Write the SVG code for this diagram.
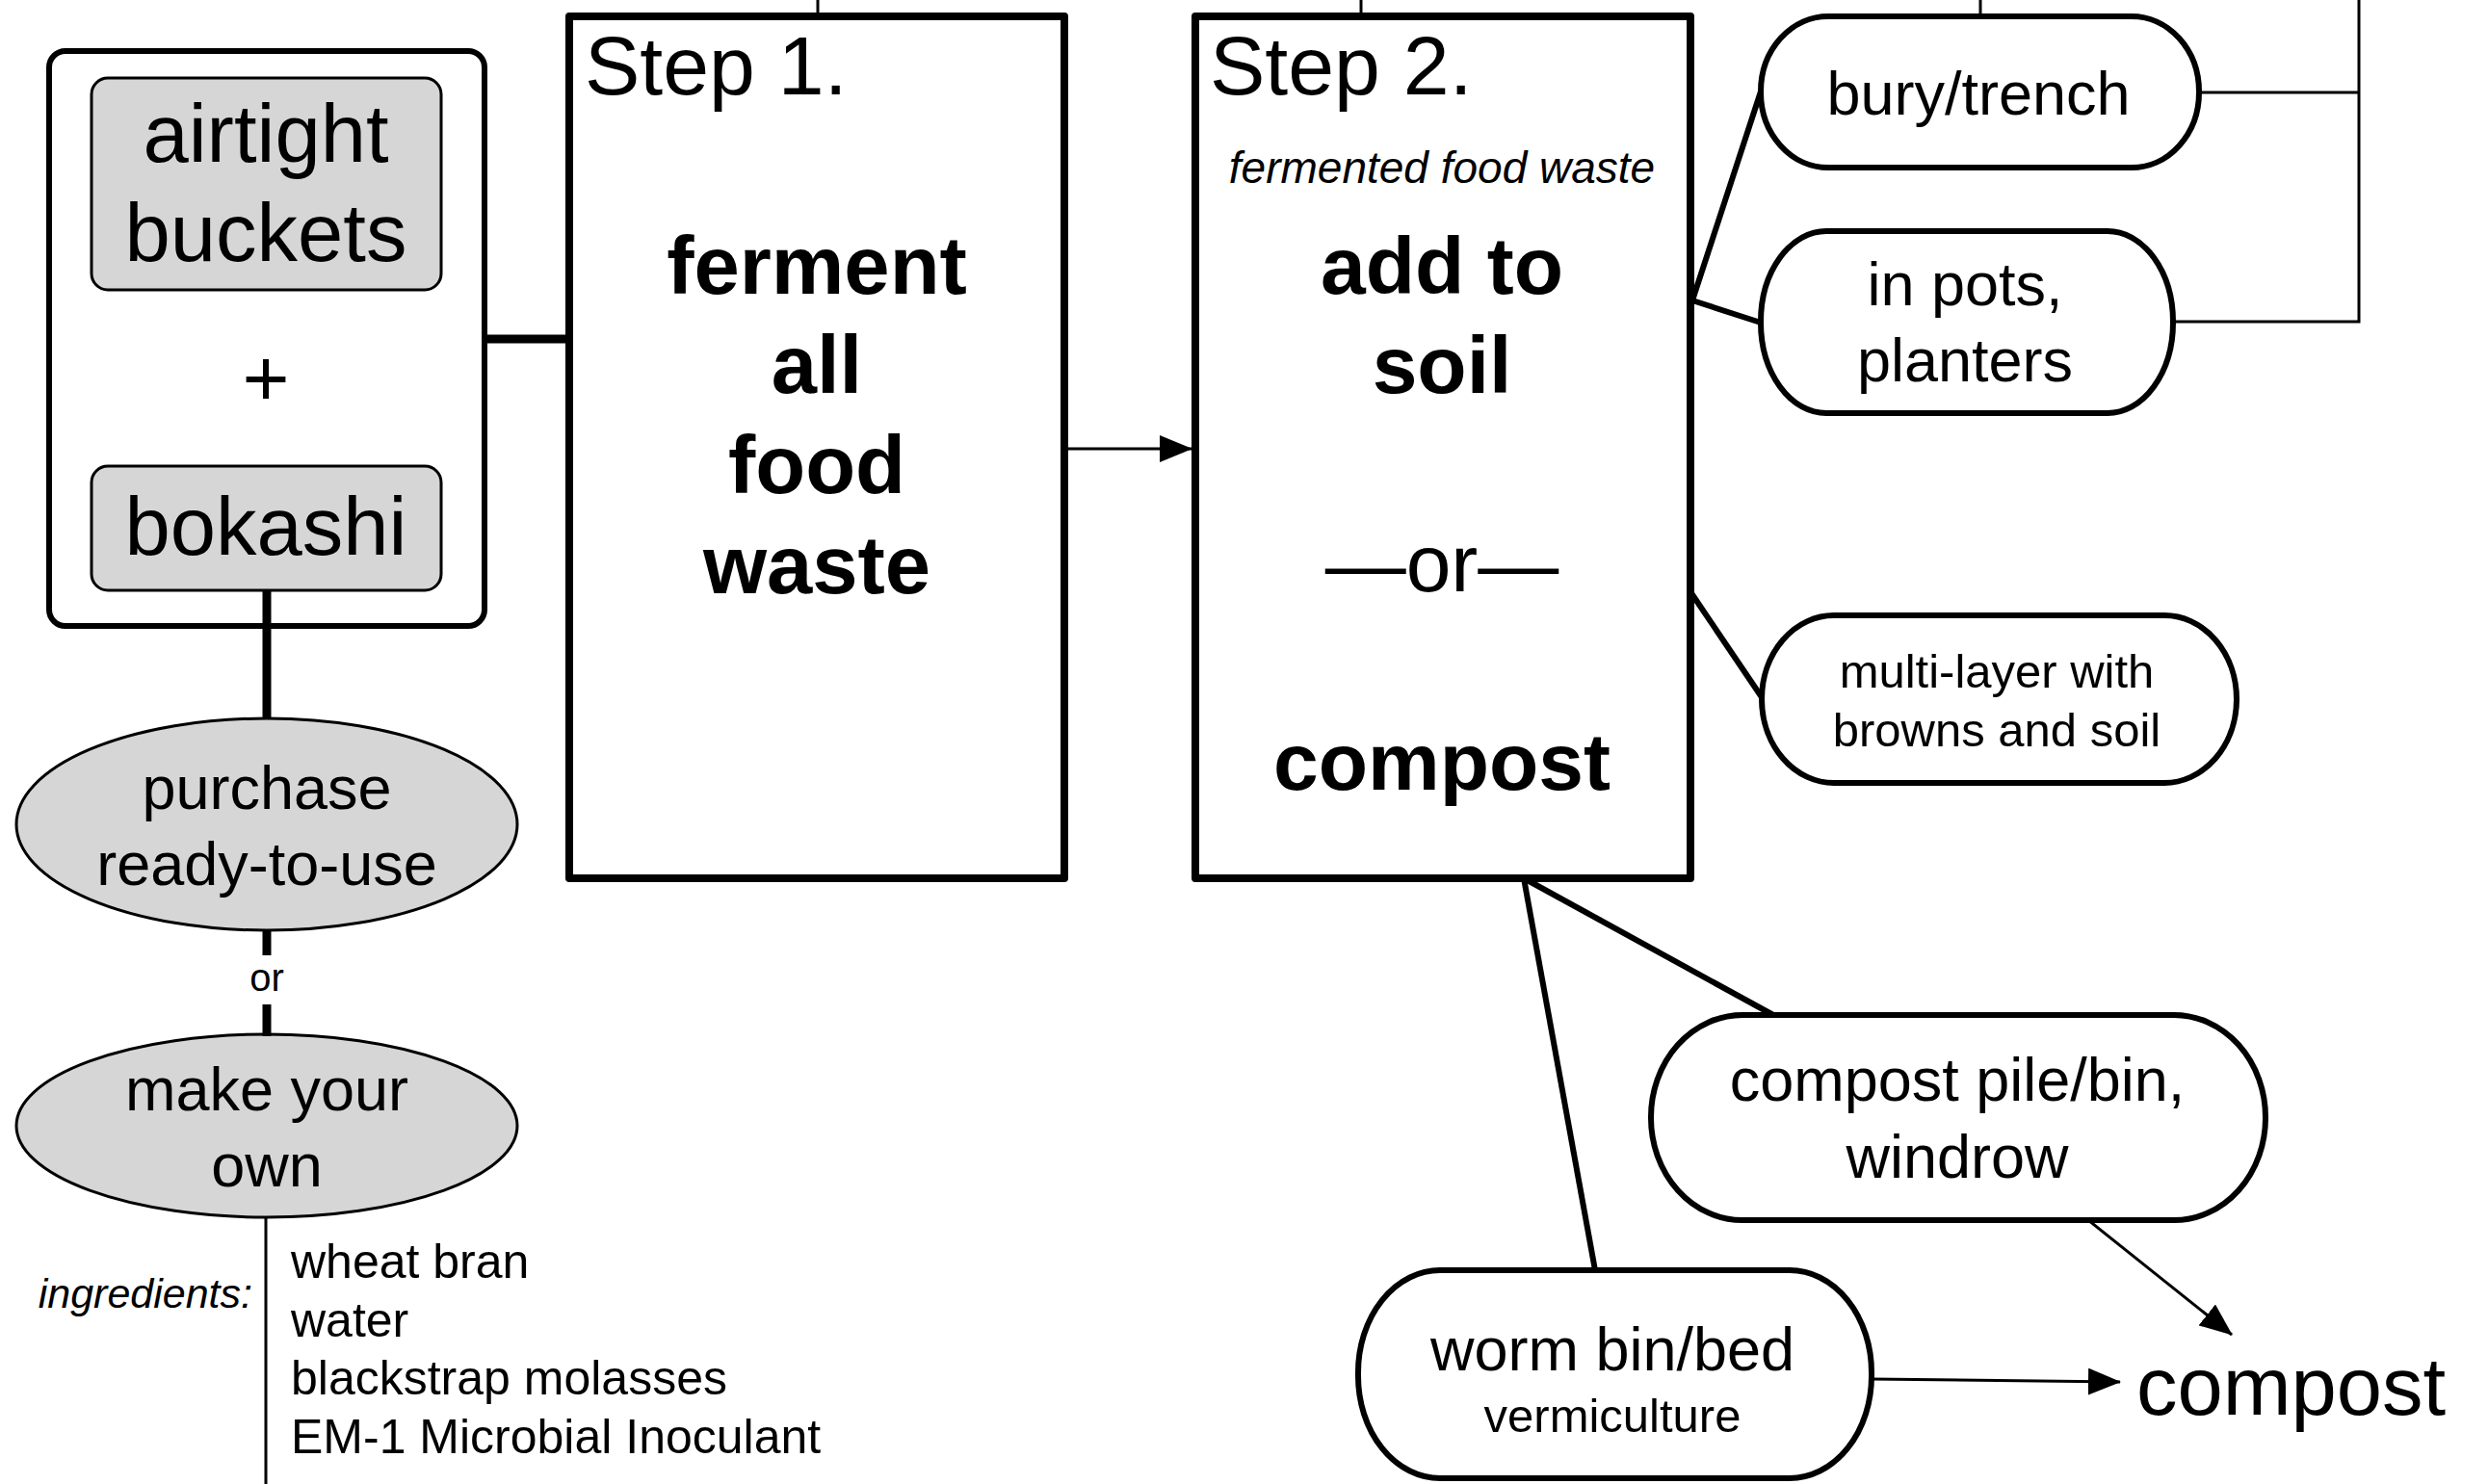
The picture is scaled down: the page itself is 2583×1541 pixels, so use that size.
<svg xmlns="http://www.w3.org/2000/svg" width="2583" height="1541" viewBox="0 0 2583 1541">
<style>
text{font-family:"Liberation Sans",Arial,Helvetica,sans-serif;fill:#000}
.c{text-anchor:middle}
.b{font-weight:bold}
.i{font-style:italic}
.gray{fill:#d6d6d6;stroke:#000;stroke-width:3}
.step{fill:#fff;stroke:#000;stroke-width:8;stroke-linejoin:round}
.pill{fill:#fff;stroke:#000;stroke-width:6}
.thick{stroke:#000;stroke-width:9;fill:none}
.mid{stroke:#000;stroke-width:6;fill:none}
.thin{stroke:#000;stroke-width:3;fill:none}
</style>
<defs>
<marker id="arr" markerUnits="userSpaceOnUse" markerWidth="34" markerHeight="28" refX="33" refY="14" orient="auto">
<path d="M0,0 L34,14 L0,28 z" fill="#000"/>
</marker>
</defs>
<rect width="2583" height="1541" fill="#fff"/>
<g id="nodes">
<g id="kit">
<rect x="51" y="53" width="452" height="597" rx="17" fill="#fff" stroke="#000" stroke-width="6"/>
<text x="276" y="421" class="c" font-size="84">+</text>
</g>
<g id="airtight">
<rect class="gray" x="95" y="81" width="363" height="220" rx="17"/>
<text x="276" y="168" class="c" font-size="85">airtight</text>
<text x="276" y="271" class="c" font-size="85">buckets</text>
</g>
<g id="bokashi">
<rect class="gray" x="95" y="484" width="363" height="129" rx="17"/>
<text x="276" y="576" class="c" font-size="85">bokashi</text>
</g>
<g id="purchase">
<ellipse class="gray" cx="277" cy="856" rx="260" ry="110"/>
<text x="277" y="840" class="c" font-size="63">purchase</text>
<text x="277" y="919" class="c" font-size="63">ready-to-use</text>
</g>
<g id="makeown">
<ellipse class="gray" cx="277" cy="1169" rx="260" ry="95"/>
<text x="277" y="1153" class="c" font-size="63">make your</text>
<text x="277" y="1232" class="c" font-size="63">own</text>
</g>
<g id="ingredients">
<text x="262" y="1358" text-anchor="end" class="i" font-size="43">ingredients:</text>
<text x="302" y="1327" font-size="50">wheat bran</text>
<text x="302" y="1388" font-size="50">water</text>
<text x="302" y="1448" font-size="50">blackstrap molasses</text>
<text x="302" y="1509" font-size="50">EM-1 Microbial Inoculant</text>
</g>
<g id="step1">
<rect class="step" x="591" y="17" width="514" height="895"/>
<text x="607" y="98" font-size="86">Step 1.</text>
<text x="848" y="305" class="c b" font-size="85">ferment</text>
<text x="848" y="408" class="c b" font-size="85">all</text>
<text x="848" y="512" class="c b" font-size="85">food</text>
<text x="848" y="616" class="c b" font-size="85">waste</text>
</g>
<g id="step2">
<rect class="step" x="1241" y="17" width="514" height="895"/>
<text x="1256" y="98" font-size="86">Step 2.</text>
<text x="1497" y="190" class="c i" font-size="46">fermented food waste</text>
<text x="1497" y="305" class="c b" font-size="84">add to</text>
<text x="1497" y="408" class="c b" font-size="84">soil</text>
<text x="1497" y="614" class="c" font-size="84">—or—</text>
<text x="1497" y="820" class="c b" font-size="84">compost</text>
</g>
<g id="bury">
<rect class="pill" x="1828" y="17" width="455" height="157" rx="70" ry="78"/>
<text x="2054" y="119" class="c" font-size="63">bury/trench</text>
</g>
<g id="pots">
<rect class="pill" x="1828" y="240" width="428" height="189" rx="68" ry="94"/>
<text x="2040" y="317" class="c" font-size="63">in pots,</text>
<text x="2040" y="396" class="c" font-size="63">planters</text>
</g>
<g id="multilayer">
<rect class="pill" x="1829" y="639" width="493" height="174" rx="75" ry="87"/>
<text x="2073" y="714" class="c" font-size="49">multi-layer with</text>
<text x="2073" y="775" class="c" font-size="49">browns and soil</text>
</g>
<g id="pile">
<rect class="pill" x="1714" y="1054" width="638" height="213" rx="95" ry="106"/>
<text x="2032" y="1143" class="c" font-size="63">compost pile/bin,</text>
<text x="2032" y="1223" class="c" font-size="63">windrow</text>
</g>
<g id="worm">
<rect class="pill" x="1410" y="1319" width="533" height="216" rx="85" ry="106"/>
<text x="1674" y="1423" class="c" font-size="63">worm bin/bed</text>
<text x="1674" y="1487" class="c" font-size="49">vermiculture</text>
</g>
<g id="compost-out">
<text x="2218" y="1469" font-size="85">compost</text>
</g>
</g>
<g id="connectors">
<line class="thick" x1="503" y1="352" x2="591" y2="352"/>
<line class="thick" x1="277" y1="613" x2="277" y2="746"/>
<line class="thick" x1="277" y1="967" x2="277" y2="992"/>
<text x="277" y="1029" class="c" font-size="40">or</text>
<line class="thick" x1="277" y1="1043" x2="277" y2="1076"/>
<line class="thin" x1="276" y1="1264" x2="276" y2="1541"/>
<line class="thin" x1="1105" y1="466" x2="1237" y2="466" marker-end="url(#arr)"/>
<line class="thin" x1="849" y1="0" x2="849" y2="17"/>
<line class="thin" x1="1413" y1="0" x2="1413" y2="17"/>
<line class="thin" x1="2056" y1="0" x2="2056" y2="17"/>
<polyline class="thin" points="2283,96 2449,96"/>
<polyline class="thin" points="2449,0 2449,334 2256,334"/>
<line class="mid" x1="1757" y1="312" x2="1828" y2="95"/>
<line class="mid" x1="1757" y1="312" x2="1828" y2="335"/>
<line class="mid" x1="1756" y1="616" x2="1829" y2="724"/>
<line class="mid" x1="1582" y1="912" x2="1841" y2="1054"/>
<line class="mid" x1="1582" y1="912" x2="1656" y2="1319"/>
<line class="thin" x1="1943" y1="1432" x2="2201" y2="1435" marker-end="url(#arr)"/>
<line class="thin" x1="2168" y1="1267" x2="2317" y2="1386" marker-end="url(#arr)"/>
</g>
</svg>
